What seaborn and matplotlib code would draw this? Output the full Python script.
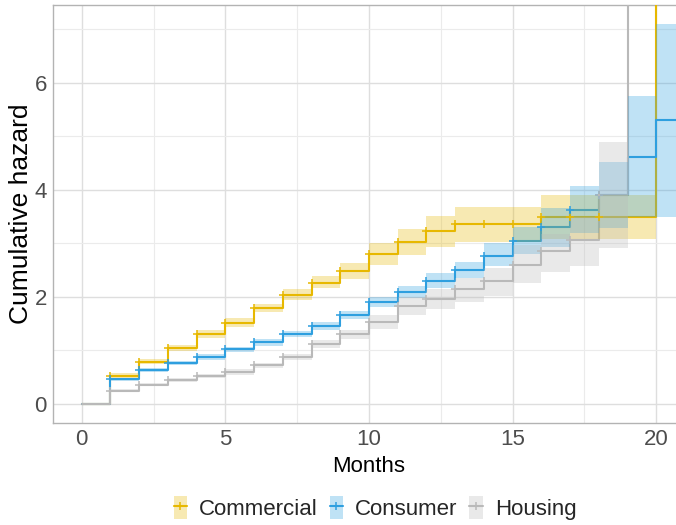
import numpy as np
import pandas as pd
import matplotlib
matplotlib.use("Agg")
import matplotlib.pyplot as plt
from matplotlib.patches import Patch
from matplotlib.lines import Line2D
import seaborn as sns

# ---------------- data ----------------
groups = ["Commercial", "Consumer", "Housing"]
colors = ["#E7B800", "#2E9FDF", "#B9B9B9"]

times = [0, 1, 2, 3, 4, 5, 6, 7, 8, 9, 10, 11, 12, 13, 14, 15, 16, 17, 18, 19, 20, 21]
OFF = 50.0  # jump to infinity (off the top of the chart)

commercial = [0, 0.53, 0.79, 1.05, 1.30, 1.52, 1.79, 2.04, 2.27, 2.49, 2.80, 3.03,
              3.23, 3.36, 3.36, 3.36, 3.49, 3.49, 3.49, 3.49, OFF, OFF]
commercial_lo = [0, 0.49, 0.74, 0.99, 1.23, 1.44, 1.71, 1.94, 2.16, 2.33, 2.60, 2.79,
                 2.94, 3.03, 3.03, 3.03, 3.08, 3.08, 3.08, 3.08, OFF, OFF]
commercial_hi = [0, 0.57, 0.85, 1.11, 1.38, 1.61, 1.87, 2.14, 2.39, 2.63, 3.00, 3.27,
                 3.51, 3.68, 3.68, 3.68, 3.91, 3.91, 3.91, 3.91, OFF, OFF]

consumer = [0, 0.46, 0.64, 0.76, 0.88, 1.02, 1.15, 1.31, 1.46, 1.66, 1.90, 2.09,
            2.29, 2.50, 2.77, 3.05, 3.30, 3.62, 3.91, 4.61, 5.30, 5.30]
consumer_lo = [0, 0.43, 0.60, 0.72, 0.83, 0.97, 1.09, 1.25, 1.39, 1.58, 1.81, 1.98,
               2.16, 2.35, 2.57, 2.80, 2.94, 3.20, 3.28, 3.50, 3.50, 3.50]
consumer_hi = [0, 0.49, 0.68, 0.80, 0.93, 1.07, 1.21, 1.37, 1.53, 1.74, 2.00, 2.20,
               2.44, 2.66, 3.00, 3.30, 3.66, 4.08, 4.52, 5.76, 7.10, 7.10]

housing = [0, 0.25, 0.36, 0.45, 0.52, 0.60, 0.72, 0.88, 1.12, 1.30, 1.53, 1.83,
           1.97, 2.14, 2.29, 2.60, 2.86, 3.07, 3.91, OFF, OFF, OFF]
housing_lo = [0, 0.22, 0.33, 0.41, 0.48, 0.55, 0.67, 0.82, 1.05, 1.22, 1.40, 1.66,
              1.77, 1.90, 2.02, 2.27, 2.47, 2.57, 2.91, OFF, OFF, OFF]
housing_hi = [0, 0.28, 0.39, 0.49, 0.56, 0.65, 0.77, 0.94, 1.19, 1.38, 1.66, 1.99,
              2.14, 2.36, 2.55, 2.97, 3.18, 3.50, 4.90, OFF, OFF, OFF]

censor_times = [1, 2, 3, 4, 5, 6, 7, 8, 9, 10, 11, 12, 13, 14, 15, 16, 17, 18]

x_ticks = [0, 5, 10, 15, 20]
y_ticks = [0, 2, 4, 6]

series = {"Commercial": (commercial, commercial_lo, commercial_hi),
          "Consumer": (consumer, consumer_lo, consumer_hi),
          "Housing": (housing, housing_lo, housing_hi)}

df = pd.concat([pd.DataFrame({"Months": times, "hazard": v[0], "lo": v[1], "hi": v[2],
                              "strata": g}) for g, v in series.items()], ignore_index=True)

# ---------------- style ----------------
sns.set_theme(style="white")
plt.rcParams["font.family"] = ["Liberation Sans", "DejaVu Sans"]

fig = plt.figure(figsize=(6.76, 5.25), dpi=100)
ax = fig.add_axes([53 / 676, 1 - 423 / 525, 632 / 676, 418 / 525])

pal = dict(zip(groups, colors))

sns.lineplot(data=df, x="Months", y="hazard", hue="strata", palette=pal,
             drawstyle="steps-post", estimator=None, sort=False, lw=1.5,
             legend=False, ax=ax, zorder=3)

for g in groups:
    d = df[df["strata"] == g]
    ax.fill_between(d["Months"], d["lo"], d["hi"], step="post", color=pal[g],
                    alpha=0.3, lw=0, zorder=4)
    cd = d[d["Months"].isin(censor_times)]
    ax.plot(cd["Months"], cd["hazard"], ls="none", marker="+", ms=6, mew=1.1,
            color=pal[g], zorder=5)

ax.set_xlim(-1, 21)
ax.set_ylim(-0.355, 7.455)
ax.set_xticks(x_ticks)
ax.set_yticks(y_ticks)
ax.set_xticks([2.5, 7.5, 12.5, 17.5], minor=True)
ax.set_yticks([1, 3, 5, 7], minor=True)
ax.grid(True, which="major", color="#DEDEDE", lw=1.0, zorder=0)
ax.grid(True, which="minor", color="#EBEBEB", lw=0.8, zorder=0)
ax.set_axisbelow(True)
for s in ax.spines.values():
    s.set_color("#B3B3B3")
    s.set_linewidth(1.0)
ax.tick_params(which="major", length=3, width=0.8, color="#B3B3B3",
               labelcolor="#4D4D4D", labelsize=16, pad=1.5)
ax.tick_params(which="minor", length=0)

ax.set_xlabel("Months", fontsize=16, color="black", labelpad=4)
ax.set_ylabel("Cumulative hazard", fontsize=19, color="black")
ax.yaxis.set_label_coords(-0.031, 0.5)

handles = [(Patch(facecolor=pal[g], alpha=0.3, edgecolor="none"),
            Line2D([], [], color=pal[g], marker="+", lw=1.5, ms=6, mew=1.1)) for g in groups]
fig.legend(handles, groups, loc="center", bbox_to_anchor=(375 / 676, 17 / 525), ncol=3,
           frameon=False, fontsize=16, handlelength=0.6, handleheight=1.2,
           handletextpad=0.54, columnspacing=0.54, borderaxespad=0)

fig.savefig("out.png", dpi=100)
